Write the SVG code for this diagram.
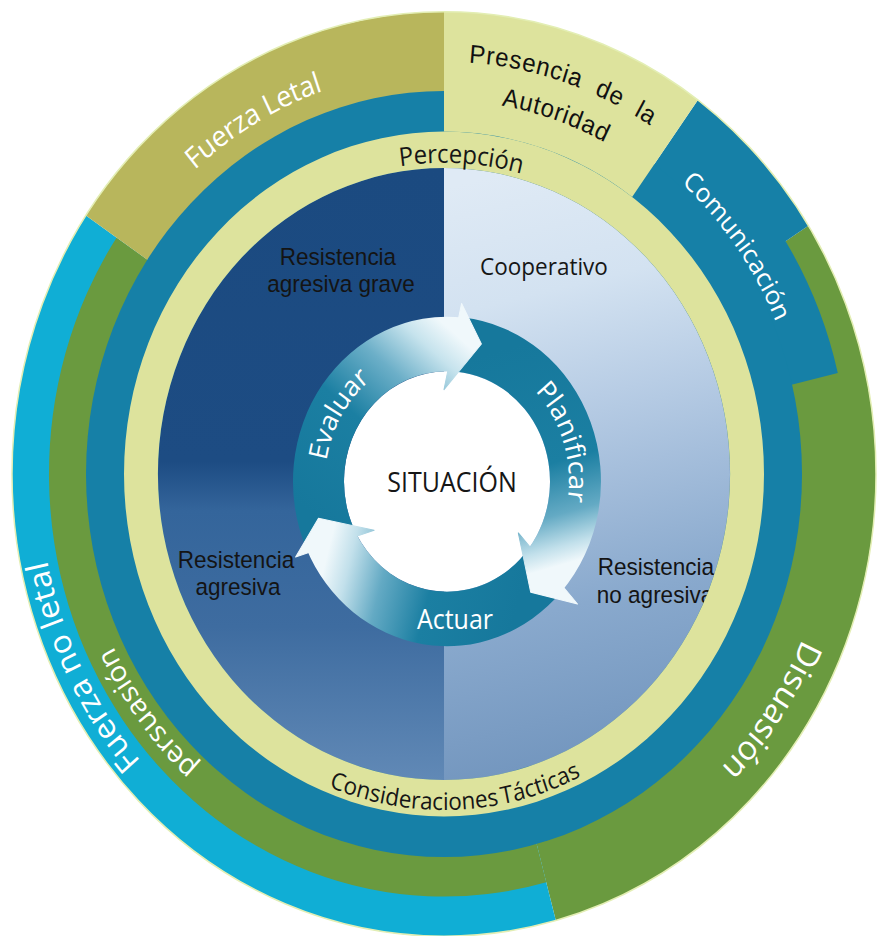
<svg xmlns="http://www.w3.org/2000/svg" width="880" height="936" viewBox="0 0 880 936">
<defs>
  <linearGradient id="gLeft" gradientUnits="userSpaceOnUse" x1="0" y1="157" x2="0" y2="729">
    <stop offset="0" stop-color="#1b4a80"/>
    <stop offset="0.48" stop-color="#1d4c83"/>
    <stop offset="0.56" stop-color="#34659b"/>
    <stop offset="0.75" stop-color="#3e6ca0"/>
    <stop offset="1" stop-color="#6189b6"/>
  </linearGradient>
  <linearGradient id="gRight" gradientUnits="userSpaceOnUse" x1="470" y1="170" x2="600" y2="740">
    <stop offset="0" stop-color="#dfeaf5"/>
    <stop offset="0.2" stop-color="#d3e2f1"/>
    <stop offset="0.38" stop-color="#b8cde5"/>
    <stop offset="0.5" stop-color="#a6bfdc"/>
    <stop offset="0.7" stop-color="#89a9cd"/>
    <stop offset="0.87" stop-color="#7a9cc3"/>
    <stop offset="1" stop-color="#6e92bb"/>
  </linearGradient>
  <linearGradient id="gEval" gradientUnits="userSpaceOnUse" x1="326.7" y1="493.8" x2="469.2" y2="323.9">
    <stop offset="0" stop-color="#16789c"/>
    <stop offset="0.45" stop-color="#1b7fa2"/>
    <stop offset="0.7" stop-color="#6cafc8"/>
    <stop offset="0.88" stop-color="#c6e3ed"/>
    <stop offset="1" stop-color="#f0f8fb"/>
  </linearGradient>
  <linearGradient id="gPlan" gradientUnits="userSpaceOnUse" x1="490.8" y1="329.7" x2="545.1" y2="532.3">
    <stop offset="0" stop-color="#16789c"/>
    <stop offset="0.55" stop-color="#1b7fa2"/>
    <stop offset="0.78" stop-color="#64aac4"/>
    <stop offset="0.92" stop-color="#c2e0eb"/>
    <stop offset="1" stop-color="#f0f8fb"/>
  </linearGradient>
  <linearGradient id="gAct" gradientUnits="userSpaceOnUse" x1="520.4" y1="554.9" x2="331" y2="504.1">
    <stop offset="0" stop-color="#16789c"/>
    <stop offset="0.45" stop-color="#1b7fa2"/>
    <stop offset="0.7" stop-color="#64aac4"/>
    <stop offset="0.88" stop-color="#c2e0eb"/>
    <stop offset="1" stop-color="#f0f8fb"/>
  </linearGradient>
  <path id="pPercepcion" d="M201,283 A291,291 0 0 1 704.1,312.5"/>
  <path id="pConsid" d="M178.3,610.3 A314,314 0 0 0 721.8,589.5"/>
  <path id="pFL" d="M78.9,345.2 A378,378 0 0 1 541.8,77.9"/>
  <path id="pPres1" d="M185.8,156.6 A386,386 0 0 1 821.6,364"/>
  <path id="pPres2" d="M212.7,181.5 A349,349 0 0 1 786,373.4"/>
  <path id="pCom" d="M406.3,84 A361,361 0 0 1 773.8,589.8"/>
  <path id="pDis" d="M794.5,272 A390,390 0 0 1 416.8,832.1"/>
  <path id="pFNL" d="M419.3,847.2 A405,405 0 0 1 106.3,219.5"/>
  <path id="pPers" d="M488.8,808.3 A368,368 0 0 1 105.3,299.2"/>
  <path id="pEval" d="M341.3,511 A122,122 0 0 1 447,328"/>
  <path id="pPlan" d="M473.4,330.9 A122,122 0 0 1 536.9,532.4"/>
</defs>
<style>
  .green { fill:#6a9a3f; }
  .lblue { fill:#10aed5; }
  .olive { fill:#b8b65c; }
  .pale { fill:#dde39d; }
  .teal { fill:#1680a7; }
  .w { fill:#ffffff; font-family:"Open Sans","Noto Sans",sans-serif; }
  .k { fill:#161616; font-family:"Open Sans","Noto Sans",sans-serif; }
  .ar { fill:#141414; font-family:"Liberation Sans",Arial,sans-serif; font-size:22.5px; text-anchor:middle; }
  .pr { fill:#111111; font-family:"Liberation Sans",Arial,sans-serif; font-size:24px; letter-spacing:0.8px; word-spacing:8px; }
  .head { stroke-width:1; stroke-linejoin:round; }
</style>
<g transform="scale(1,1.07)">
  <!-- outer segments -->
  <g id="disuasion">
    <path class="green" d="M444,443 L808.3,210.9 A432,432 0 0 1 555.8,860.3 Z"/>
    <text class="w" font-size="32"><textPath href="#pDis" startOffset="50%" text-anchor="middle">Disuasión</textPath></text>
  </g>
  <g id="fuerza-no-letal">
    <path class="lblue" d="M444,443 L555.8,860.3 A432,432 0 0 1 85.9,201.4 Z"/>
    <text class="w" font-size="31"><textPath href="#pFNL" startOffset="50%" text-anchor="middle">Fuerza no letal</textPath></text>
  </g>
  <g id="persuasion">
    <path class="green" d="M444,443 L546.2,824.5 A395,395 0 0 1 116.5,222.1 Z"/>
    <text class="w" font-size="27.5"><textPath href="#pPers" startOffset="50%" text-anchor="middle">persuasión</textPath></text>
  </g>
  <g id="fuerza-letal">
    <path class="olive" d="M444,443 L85.9,201.4 A432,432 0 0 1 444,11 Z"/>
    <text class="w" font-size="27" letter-spacing="-0.3"><textPath href="#pFL" startOffset="50%" text-anchor="middle">Fuerza Letal</textPath></text>
  </g>
  <g id="comunicacion">
    <path class="teal" d="M444,443 L697.9,93.5 A432,432 0 0 1 808.3,210.9 L785.6,225.4 A405,405 0 0 1 837.8,348.5 Z"/>
    <text class="w" font-size="24.5"><textPath href="#pCom" startOffset="50%" text-anchor="middle">Comunicación</textPath></text>
  </g>
  <g id="anillo-teal">
    <circle class="teal" cx="444" cy="443" r="358"/>
  </g>
  <g id="presencia">
    <path class="pale" d="M444,11 A432,432 0 0 1 697.9,93.5 L632.1,184.1 A320,320 0 0 0 444,123 Z"/>
    <text class="pr"><textPath href="#pPres1" startOffset="50%" text-anchor="middle">Presencia de la</textPath></text>
    <text class="pr"><textPath href="#pPres2" startOffset="50%" text-anchor="middle">Autoridad</textPath></text>
  </g>
  <circle cx="444" cy="443" r="432" fill="none" stroke="#e3eeb4" stroke-width="1.5"/>

  <!-- inner disc quadrants -->
  <circle cx="444" cy="443" r="286" fill="#3d6da0"/>
  <g id="q-grave">
    <path fill="url(#gLeft)" d="M444,443 L158,443 A286,286 0 0 1 444,157 Z"/>
    <text class="ar" x="338" y="247.7">Resistencia</text>
    <text class="ar" x="341" y="272.9">agresiva grave</text>
  </g>
  <g id="q-cooperativo">
    <path fill="url(#gRight)" d="M444,443 L444,157 A286,286 0 0 1 730,443 Z"/>
    <text class="k" x="544" y="257" font-size="22.5" text-anchor="middle">Cooperativo</text>
  </g>
  <g id="q-no-agresiva">
    <path fill="url(#gRight)" d="M444,443 L730,443 A286,286 0 0 1 444,729 Z"/>
    <text class="ar" x="656" y="537.4">Resistencia</text>
    <text class="ar" x="655" y="563.6">no agresiva</text>
  </g>
  <g id="q-agresiva">
    <path fill="url(#gLeft)" d="M444,443 L444,729 A286,286 0 0 1 158,443 Z"/>
    <text class="ar" x="236" y="530.8">Resistencia</text>
    <text class="ar" x="238" y="556">agresiva</text>
  </g>

  <!-- yellow ring -->
  <g id="percepcion">
    <path class="pale" fill-rule="evenodd" d="M444,123 A320,320 0 1 1 444,763 A320,320 0 1 1 444,123 Z M444,157 A286,286 0 1 0 444,729 A286,286 0 1 0 444,157 Z"/>
    <text class="k" font-size="24" letter-spacing="-0.2"><textPath href="#pPercepcion" startOffset="50%" text-anchor="middle">Percepción</textPath></text>
  </g>
  <g id="consideraciones">
    <text class="k" font-size="22.5" word-spacing="-2.5"><textPath href="#pConsid" startOffset="50%" text-anchor="middle">Consideraciones Tácticas</textPath></text>
  </g>

  <!-- cycle -->
  <g id="situacion">
    <circle cx="447" cy="450" r="103" fill="#ffffff"/>
    <text class="k" x="452" y="459.8" font-size="25" text-anchor="middle">SITUACIÓN</text>
  </g>
  <g id="connectors">
    <path id="evaluar-body" fill="url(#gEval)" d="M356.5,499.2 L306.3,512.6 A154,154 0 0 1 463.1,296.8 L449.7,347 A103,103 0 0 0 356.5,499.2 Z"/>
    <path id="planificar-body" fill="url(#gPlan)" d="M449.7,347 L463.1,296.8 A154,154 0 0 1 561.4,553 L528.7,512.7 A103,103 0 0 0 449.7,347 Z"/>
    <path id="actuar-body" fill="url(#gAct)" d="M528.7,512.7 L561.4,553 A154,154 0 0 1 306.3,512.6 L356.5,499.2 A103,103 0 0 0 528.7,512.7 Z"/>
    <path id="evaluar-head" class="head" fill="url(#gEval)" stroke="url(#gEval)" d="M444,364.1 L461.6,283.6 L481.4,321.5 Z"/>
    <path id="planificar-head" class="head" fill="url(#gPlan)" stroke="url(#gPlan)" d="M518.3,498.1 L577.5,564.5 L530.7,553.4 Z"/>
    <path id="actuar-head" class="head" fill="url(#gAct)" stroke="url(#gAct)" d="M374.1,495.6 L295.6,520.6 L318.5,484.4 Z"/>
  </g>
  <g id="evaluar">
    <text class="w" font-size="26"><textPath href="#pEval" startOffset="50%" text-anchor="middle">Evaluar</textPath></text>
  </g>
  <g id="planificar">
    <text class="w" font-size="26"><textPath href="#pPlan" startOffset="50%" text-anchor="middle">Planificar</textPath></text>
  </g>
  <g id="actuar">
    <text class="w" x="455" y="588" font-size="25" text-anchor="middle">Actuar</text>
  </g>
</g>
</svg>
